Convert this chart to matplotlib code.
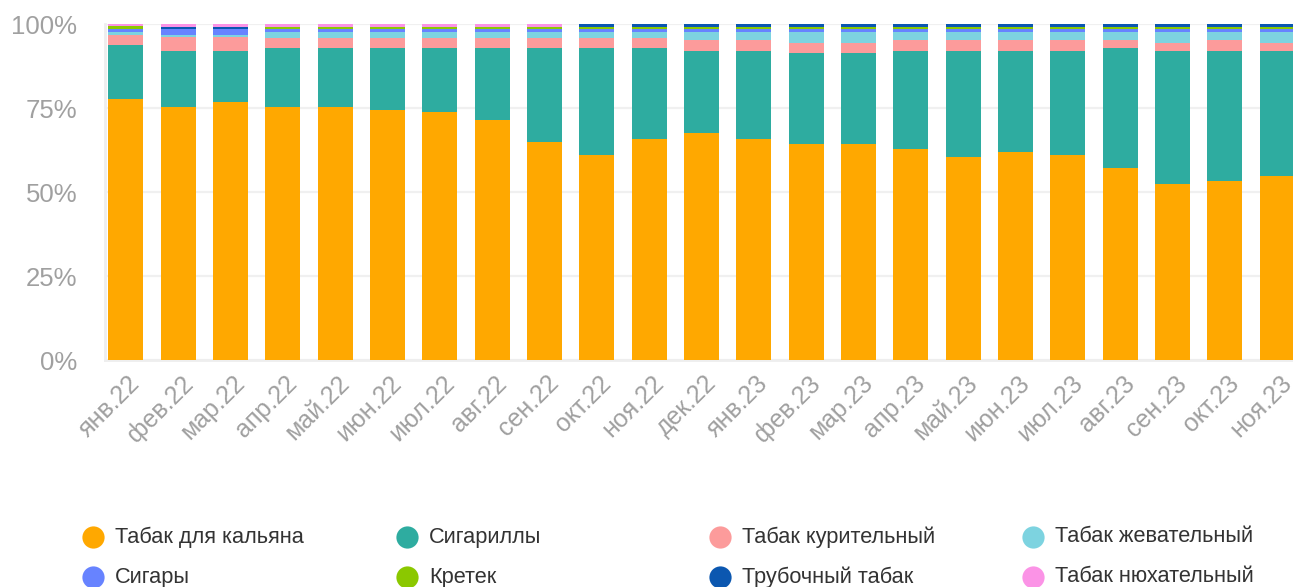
import matplotlib
matplotlib.use("Agg")
import matplotlib.pyplot as plt
import matplotlib.transforms as mtransforms
from matplotlib.lines import Line2D
import numpy as np

plt.rcParams['font.family'] = ['Liberation Sans', 'DejaVu Sans']

months = ["янв.22", "фев.22", "мар.22", "апр.22", "май.22", "июн.22", "июл.22",
          "авг.22", "сен.22", "окт.22", "ноя.22", "дек.22", "янв.23", "фев.23",
          "мар.23", "апр.23", "май.23", "июн.23", "июл.23", "авг.23", "сен.23",
          "окт.23", "ноя.23"]

hookah = [77.7, 75.3, 76.8, 75.3, 75.3, 74.4, 73.8, 71.4, 64.9, 61.0, 65.8, 67.6,
          65.8, 64.3, 64.3, 62.8, 60.4, 61.9, 61.0, 57.1, 52.4, 53.3, 54.8]
cigarillos = [16.1, 16.7, 15.2, 17.6, 17.6, 18.5, 19.1, 21.5, 28.0, 31.9, 27.1, 24.4,
              26.2, 27.1, 27.1, 29.2, 31.6, 30.1, 31.0, 35.8, 39.6, 38.7, 37.2]
smoking = [3.0, 4.1, 4.1, 3.0, 3.0, 3.0, 3.0, 3.0, 3.0, 3.0, 3.0, 3.2,
           3.2, 2.8, 2.8, 3.2, 3.2, 3.2, 3.2, 2.3, 2.2, 3.2, 2.2]
chewing = [0.9, 0.6, 0.6, 1.7, 1.7, 1.7, 1.7, 1.7, 1.7, 1.7, 1.7, 2.4,
           2.4, 3.4, 3.4, 2.4, 2.4, 2.4, 2.4, 2.4, 3.4, 2.4, 3.4]
cigars = [0.9, 1.9, 1.9, 0.9, 0.9, 0.9, 0.9, 0.9, 0.9, 0.9, 0.9, 0.9,
          0.9, 0.9, 0.9, 0.9, 0.9, 0.9, 0.9, 0.9, 0.9, 0.9, 0.9]
kretek = [0.7, 0.0, 0.0, 0.7, 0.7, 0.7, 0.7, 0.7, 0.7, 0.7, 0.7, 0.7,
          0.7, 0.7, 0.7, 0.7, 0.7, 0.7, 0.7, 0.7, 0.7, 0.7, 0.7]
pipe = [0.0, 0.6, 0.6, 0.0, 0.0, 0.0, 0.0, 0.0, 0.0, 0.8, 0.8, 0.8,
        0.8, 0.8, 0.8, 0.8, 0.8, 0.8, 0.8, 0.8, 0.8, 0.8, 0.8]
snuff = [0.8, 0.8, 0.8, 0.8, 0.8, 0.8, 0.8, 0.8, 0.8, 0.0, 0.0, 0.0,
         0.0, 0.0, 0.0, 0.0, 0.0, 0.0, 0.0, 0.0, 0.0, 0.0, 0.0]

series_names = ["Табак для кальяна", "Сигариллы", "Табак курительный", "Табак жевательный",
                "Сигары", "Кретек", "Трубочный табак", "Табак нюхательный"]
series_values = [hookah, cigarillos, smoking, chewing, cigars, kretek, pipe, snuff]
colors = ["#FFA800", "#2EACA0", "#FC9B9B", "#7DD3E0",
          "#6783FF", "#8BC800", "#0B57B0", "#FB93E6"]
y_ticks = [0, 25, 50, 75, 100]
y_tick_labels = ["0%", "25%", "50%", "75%", "100%"]

W, H = 1293, 587
fig = plt.figure(figsize=(W / 100, H / 100), dpi=100)
ax = fig.add_axes([105 / W, 1 - 360 / H, (1293 - 105) / W, (360 - 24) / H])

x = np.arange(len(months))
bottom = np.zeros(len(months))
for name, vals, col in zip(series_names, series_values, colors):
    v = np.array(vals)
    ax.bar(x, v, bottom=bottom, width=0.67, color=col, linewidth=0, zorder=2)
    bottom += v

ax.set_xlim(-0.4, 22.3)
ax.set_ylim(0, 100)
ax.set_yticks(y_ticks)
ax.set_yticklabels(y_tick_labels)
ax.yaxis.grid(True, color="#f0f0f0", linewidth=1.6, zorder=0)
ax.set_axisbelow(True)
for s in ["top", "right"]:
    ax.spines[s].set_visible(False)
for s in ["left", "bottom"]:
    ax.spines[s].set_color("#eeeeee")
    ax.spines[s].set_linewidth(2)
    ax.spines[s].set_zorder(1)
ax.tick_params(axis="y", length=0, pad=20, labelsize=18.5, labelcolor="#a0a0a0")
ax.tick_params(axis="x", length=0, pad=8, labelsize=18, labelcolor="#a0a0a0")
ax.set_xticks(x)
ax.set_xticklabels(months, rotation=45, ha="right", va="top", rotation_mode="anchor")
offset = mtransforms.ScaledTranslation(1.5 / 72, 0, fig.dpi_scale_trans)
for lbl in ax.get_xticklabels():
    lbl.set_transform(lbl.get_transform() + offset)
for lbl in ax.get_yticklabels():
    lbl.set_horizontalalignment("right")

# legend (manual grid: 4 columns, 2 rows)
col_x = [93, 407, 720, 1033]
row_y = [537, 577]
for i, (name, col) in enumerate(zip(series_names, colors)):
    cx = col_x[i % 4]
    cy = row_y[i // 4]
    fig.add_artist(Line2D([cx / W], [1 - cy / H], marker="o", markersize=16,
                          color=col, markeredgewidth=0, linestyle="none",
                          transform=fig.transFigure))
    fig.text((cx + 22) / W, 1 - cy / H, name, fontsize=15.7, color="#333333",
             va="center", ha="left")

fig.savefig("out.png", dpi=100)
